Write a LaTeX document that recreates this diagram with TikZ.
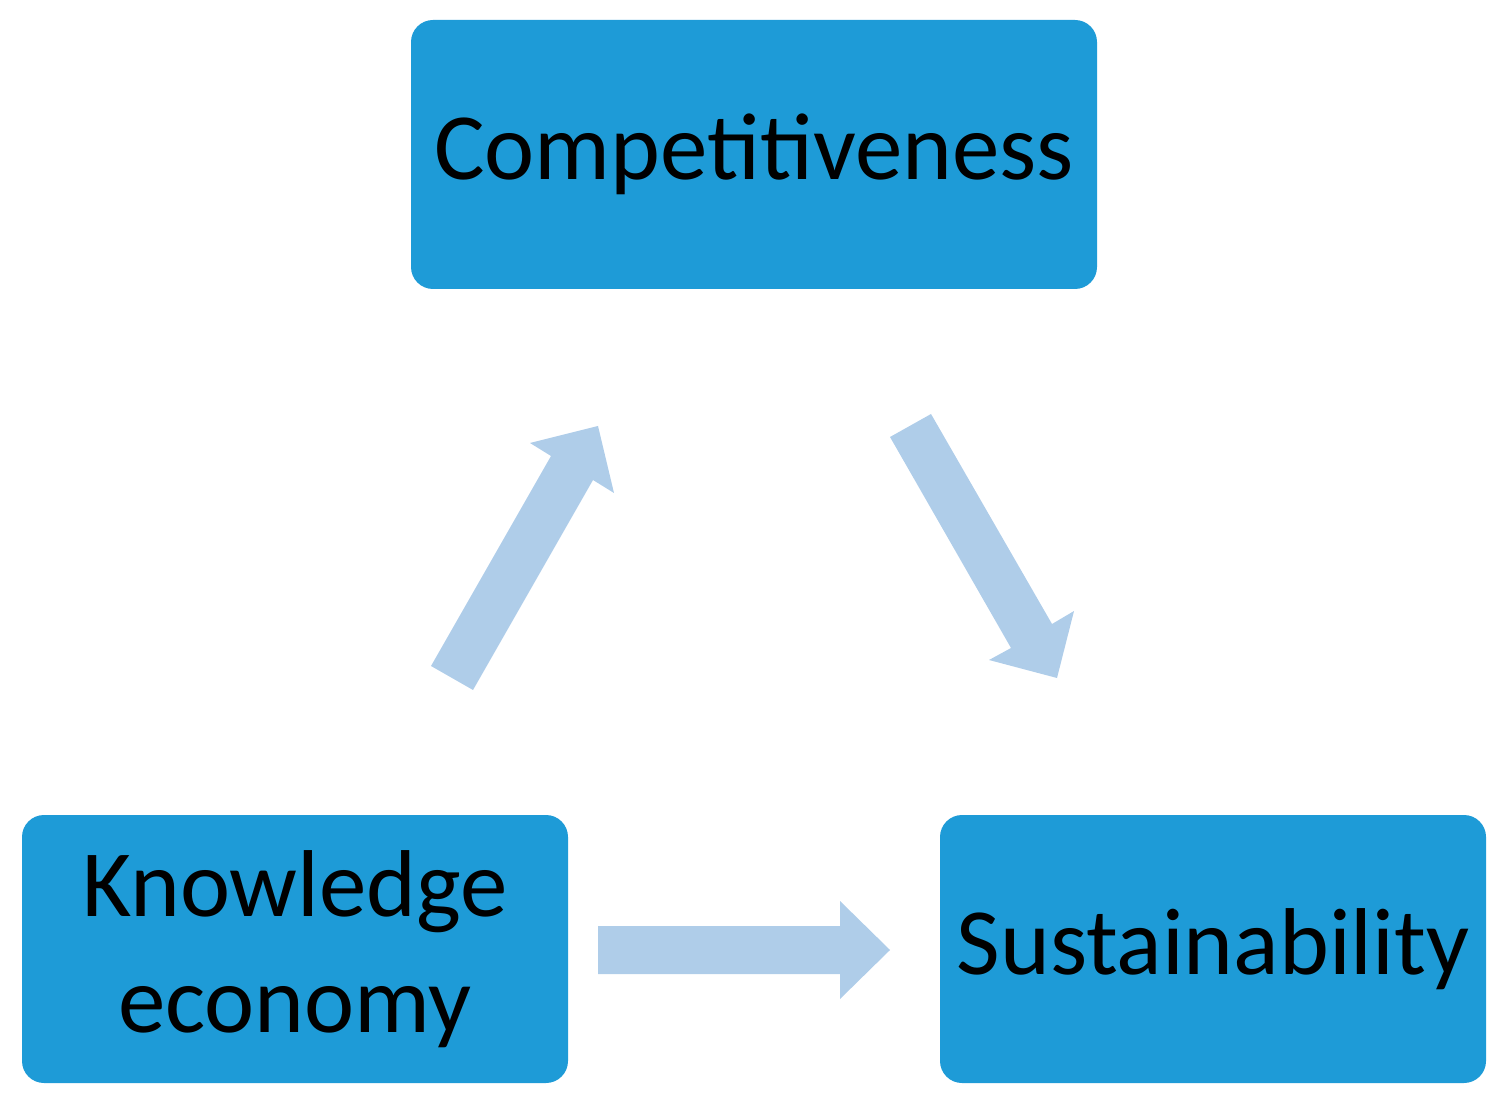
\documentclass[tikz,border=0pt]{standalone}
\usepackage{fontspec}
\setmainfont{Carlito}
\definecolor{boxblue}{HTML}{1E9BD7}
\definecolor{arrblue}{HTML}{AFCDE9}
\begin{document}
\begin{tikzpicture}[x=0.01cm,y=-0.01cm,
  box/.style={fill=boxblue,rounded corners=0.22cm},
  lbl/.style={font=\fontsize{27}{33}\selectfont,align=center,text=black},
  blk/.style={fill=arrblue}]
\useasboundingbox (0,0) rectangle (1501,1107);
\fill[box] (411,20) rectangle (1097,289);
\fill[box] (22,815) rectangle (568,1083);
\fill[box] (940,815) rectangle (1486,1083);
\node[lbl] (comp) at (754,154) {Competitiveness};
\node[lbl] (know) at (295,949) {Knowledge\\economy};
\node[lbl] (sust) at (1213,949) {Sustainability};
\fill[blk] (598,926) -- (840,926) -- (840,901) -- (890,950) -- (840,999) -- (840,974) -- (598,974) -- cycle;
\fill[blk] (431,666) -- (551,456) -- (530,443) -- (598,426) -- (614,493) -- (593,480) -- (473,690) -- cycle;
\fill[blk] (890,437) -- (1011,648) -- (989,660) -- (1057,678) -- (1074,611) -- (1052,624) -- (931,414) -- cycle;
\end{tikzpicture}
\end{document}
